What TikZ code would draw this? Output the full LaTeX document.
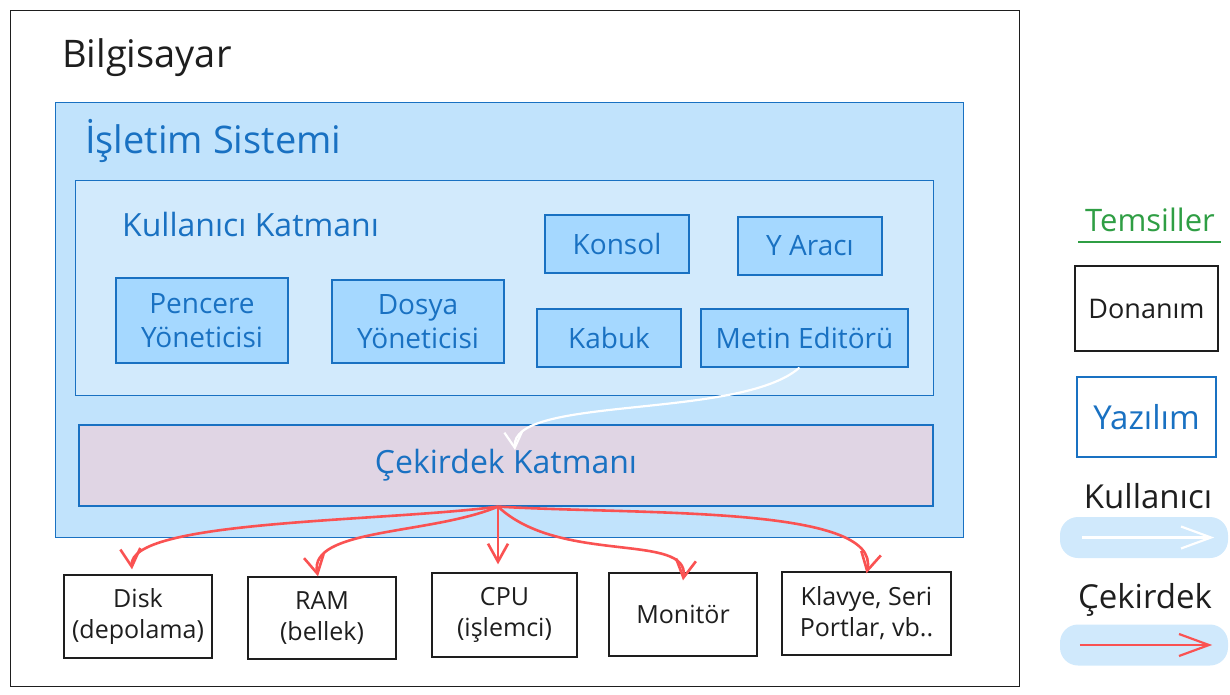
\documentclass[tikz,border=0pt]{standalone}
\usepackage{fontspec}
\setmainfont{Open Sans}
\usepackage{xcolor}
\usepackage{tikz}
\usetikzlibrary{shapes,arrows.meta,positioning,backgrounds}
\definecolor{osblue}{RGB}{25,113,194}
\definecolor{osfill}{RGB}{193,227,252}
\definecolor{userfill}{RGB}{210,234,252}
\definecolor{swfill}{RGB}{165,216,255}
\definecolor{kernfill}{RGB}{224,213,228}
\definecolor{kernred}{RGB}{250,82,82}
\definecolor{legendgreen}{RGB}{47,158,68}
\definecolor{blobblue}{RGB}{208,233,252}
\definecolor{ink}{RGB}{30,30,30}
\tikzset{
    every node/.style={font=\fontsize{28}{34}\selectfont, text=ink}
}

\begin{document}
\begin{tikzpicture}[x=1pt,y=-1pt]
            % Define block styles
            \tikzstyle{layer} = [rectangle, draw=osblue, line width=1.2pt, anchor=north west, inner sep=0pt]
            \tikzstyle{sw} = [rectangle, draw=osblue, fill=swfill, line width=1.2pt,
                text=osblue, align=center, inner sep=0pt, minimum height=58pt, minimum width=144pt]
            \tikzstyle{hw} = [rectangle, draw=ink, fill=white, line width=1.3pt,
                align=center, inner sep=0pt, minimum height=83pt, minimum width=148pt,
                font=\fontsize{25}{31}\selectfont]
            \tikzstyle{title} = [anchor=west, inner sep=0pt]
            \tikzstyle{blob} = [rectangle, fill=blobblue, rounded corners=18pt,
                minimum width=168pt, minimum height=41pt, inner sep=0pt]
            \tikzstyle{kline} = [draw=kernred, line width=2.6pt, -{Straight Barb[length=18pt,width=20pt]}]
            \tikzstyle{uline} = [draw=white, line width=2.2pt, -{Straight Barb[length=16pt,width=18pt]}]

            \useasboundingbox (0,0) rectangle (1230,695);

            % Layers
            \node [layer, draw=ink, fill=white, line width=1.4pt, minimum width=1009pt, minimum height=676pt] (pc) at (10,10) {};
            \node [layer, fill=osfill, minimum width=908pt, minimum height=435pt] (os) at (55,102) {};
            \node [layer, fill=userfill, minimum width=858pt, minimum height=215pt] (user) at (75,180) {};
            \node [layer, fill=kernfill, minimum width=854pt, minimum height=81pt,
                   text=osblue, font=\fontsize{32}{38}\selectfont, anchor=center] (kernel) at (506,465.5) {Çekirdek Katmanı};

            \node [title, font=\fontsize{38}{45}\selectfont] (pctitle) at (62,58) {Bilgisayar};
            \node [title, text=osblue, font=\fontsize{38}{45}\selectfont] (ostitle) at (85,141) {İşletim Sistemi};
            \node [title, text=osblue, font=\fontsize{32}{38}\selectfont] (usertitle) at (122,224) {Kullanıcı Katmanı};

            % User layer programs
            \node [sw, minimum width=172pt, minimum height=85pt] (pencere) at (202,320.5) {Pencere\\Yöneticisi};
            \node [sw, minimum width=172pt, minimum height=83pt] (dosya) at (418,321.5) {Dosya\\Yöneticisi};
            \node [sw] (konsol) at (617,244) {Konsol};
            \node [sw] (yaraci) at (810,246) {Y Aracı};
            \node [sw] (kabuk) at (609,338) {Kabuk};
            \node [sw, minimum width=207pt] (metin) at (804.5,338) {Metin Editörü};

            % Hardware
            \node [hw] (disk) at (138,616.5) {Disk\\(depolama)};
            \node [hw, minimum height=82pt] (ram) at (322,618) {RAM\\(bellek)};
            \node [hw, minimum width=145pt, minimum height=84pt] (cpu) at (504.5,615) {CPU\\(işlemci)};
            \node [hw] (monitor) at (683,614.5) {Monitör};
            \node [hw, minimum width=169pt] (klavye) at (866.5,613.5) {Klavye, Seri\\Portlar, vb..};

            % Connect nodes
            \coordinate (kout) at ([xshift=-8pt]kernel.south);
            \coordinate (kin) at (515,450);
            \draw [uline] ([xshift=-5pt]metin.south) .. controls (740,420) and (510,395) .. (kin);
            \draw [kline] (kout) .. controls (380,522) and (128,520) .. ([xshift=-6pt,yshift=5pt]disk.north);
            \draw [kline] (kout) .. controls (430,535) and (308,528) .. ([xshift=-4pt]ram.north);
            \draw [kline] (kout) -- ([yshift=8pt]kout |- cpu.north);
            \draw [kline] (kout) .. controls (560,565) and (690,532) .. ([yshift=-8pt]monitor.north);
            \draw [kline] (kout) .. controls (640,515) and (882,505) .. ([yshift=-2pt]klavye.north);

            % Legend
            \node [text=legendgreen, font=\fontsize{31}{37}\selectfont] (legtitle) at (1150,220) {Temsiller};
            \draw [legendgreen, line width=1.6pt] (1078,242) -- (1221,242);
            \node [hw, minimum width=143pt, minimum height=85pt, font=\fontsize{27}{32}\selectfont] (donanim) at (1146.5,308.5) {Donanım};
            \node [sw, fill=white, minimum width=139pt, minimum height=80pt, font=\fontsize{33}{39}\selectfont] (yazilim) at (1146.5,417) {Yazılım};
            \node [font=\fontsize{33}{39}\selectfont] (legkull) at (1148,496) {Kullanıcı};
            \node [blob] (ublob) at (1144,537.5) {};
            \draw [draw=white, line width=2.2pt, -{Straight Barb[length=30pt,width=22pt]}]
                ([xshift=22pt]ublob.west) -- ([xshift=-14pt]ublob.east);
            \node [font=\fontsize{33}{39}\selectfont] (legcek) at (1145,600) {Çekirdek};
            \node [blob] (kblob) at (1144,645) {};
            \draw [draw=kernred, line width=2.2pt, -{Straight Barb[length=30pt,width=22pt]}]
                ([xshift=20pt]kblob.west) -- ([xshift=-16pt]kblob.east);
\end{tikzpicture}
\end{document}
